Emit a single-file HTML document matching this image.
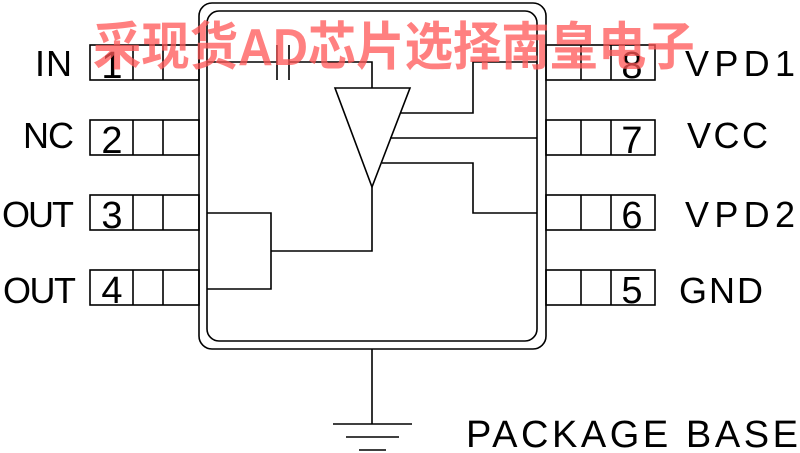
<!DOCTYPE html>
<html><head><style>
html,body{margin:0;padding:0;background:#fff;width:800px;height:453px;overflow:hidden}
svg{display:block}
text{font-family:"Liberation Sans","DejaVu Sans",sans-serif;fill:#000}
</style></head><body>
<svg width="800" height="453" viewBox="0 0 800 453" xmlns="http://www.w3.org/2000/svg">
<g fill="none" stroke="#000" stroke-width="1.6">
<rect x="199" y="3" width="347" height="346" rx="13"/>
<rect x="207" y="11" width="330" height="330" rx="12"/>
<rect x="90" y="45" width="109" height="35"/><line x1="133" y1="45" x2="133" y2="80"/><line x1="163" y1="45" x2="163" y2="80"/>
<rect x="90" y="120" width="109" height="35"/><line x1="133" y1="120" x2="133" y2="155"/><line x1="163" y1="120" x2="163" y2="155"/>
<rect x="90" y="195" width="109" height="35"/><line x1="133" y1="195" x2="133" y2="230"/><line x1="163" y1="195" x2="163" y2="230"/>
<rect x="90" y="270" width="109" height="35"/><line x1="133" y1="270" x2="133" y2="305"/><line x1="163" y1="270" x2="163" y2="305"/>
<rect x="546" y="45" width="109" height="35"/><line x1="581" y1="45" x2="581" y2="80"/><line x1="611" y1="45" x2="611" y2="80"/>
<rect x="546" y="120" width="109" height="35"/><line x1="581" y1="120" x2="581" y2="155"/><line x1="611" y1="120" x2="611" y2="155"/>
<rect x="546" y="195" width="109" height="35"/><line x1="581" y1="195" x2="581" y2="230"/><line x1="611" y1="195" x2="611" y2="230"/>
<rect x="546" y="270" width="109" height="35"/><line x1="581" y1="270" x2="581" y2="305"/><line x1="611" y1="270" x2="611" y2="305"/>
<polyline points="207,62 277,62"/>
<line x1="277" y1="45" x2="277" y2="80"/><line x1="289" y1="45" x2="289" y2="80"/>
<polyline points="289,62 372,62 372,88"/>
<polygon points="335,88 410,88 372,187"/>
<polyline points="400,113 473,113 473,62 537,62"/>
<line x1="390" y1="138" x2="537" y2="138"/>
<polyline points="382,163 473,163 473,213 537,213"/>
<polyline points="372,187 372,251 271,251"/>
<polyline points="207,213 271,213 271,289 207,289"/>
<line x1="372" y1="349" x2="372" y2="424"/>
<line x1="333" y1="424" x2="412" y2="424"/>
<line x1="346" y1="437" x2="399" y2="437"/>
<line x1="359" y1="450" x2="386" y2="450"/>
</g>
<g font-size="38">
<text x="112" y="78" text-anchor="middle">1</text>
<text x="112" y="153" text-anchor="middle">2</text>
<text x="112" y="228" text-anchor="middle">3</text>
<text x="112" y="303" text-anchor="middle">4</text>
<text x="632" y="78" text-anchor="middle">8</text>
<text x="632" y="153" text-anchor="middle">7</text>
<text x="632" y="228" text-anchor="middle">6</text>
<text x="632" y="303" text-anchor="middle">5</text>
</g>
<g font-size="36">
<text x="35" y="76" textLength="37">IN</text>
<text x="23" y="148" textLength="51">NC</text>
<text x="2" y="227" textLength="72">OUT</text>
<text x="3" y="303" textLength="73">OUT</text>
<text x="685" y="76" textLength="110">VPD1</text>
<text x="687" y="148" textLength="81">VCC</text>
<text x="685" y="227" textLength="110">VPD2</text>
<text x="679" y="303" textLength="84">GND</text>
<text x="466" y="447" font-size="38" textLength="332">PACKAGE  BASE</text>
</g>
<text transform="translate(93,65) scale(0.93,1)" font-size="52" font-weight="bold" style="font-family:'Liberation Sans','Noto Sans CJK SC',sans-serif;fill:rgba(255,85,85,0.75)">采现货AD芯片选择南皇电子</text>
</svg>
</body></html>
